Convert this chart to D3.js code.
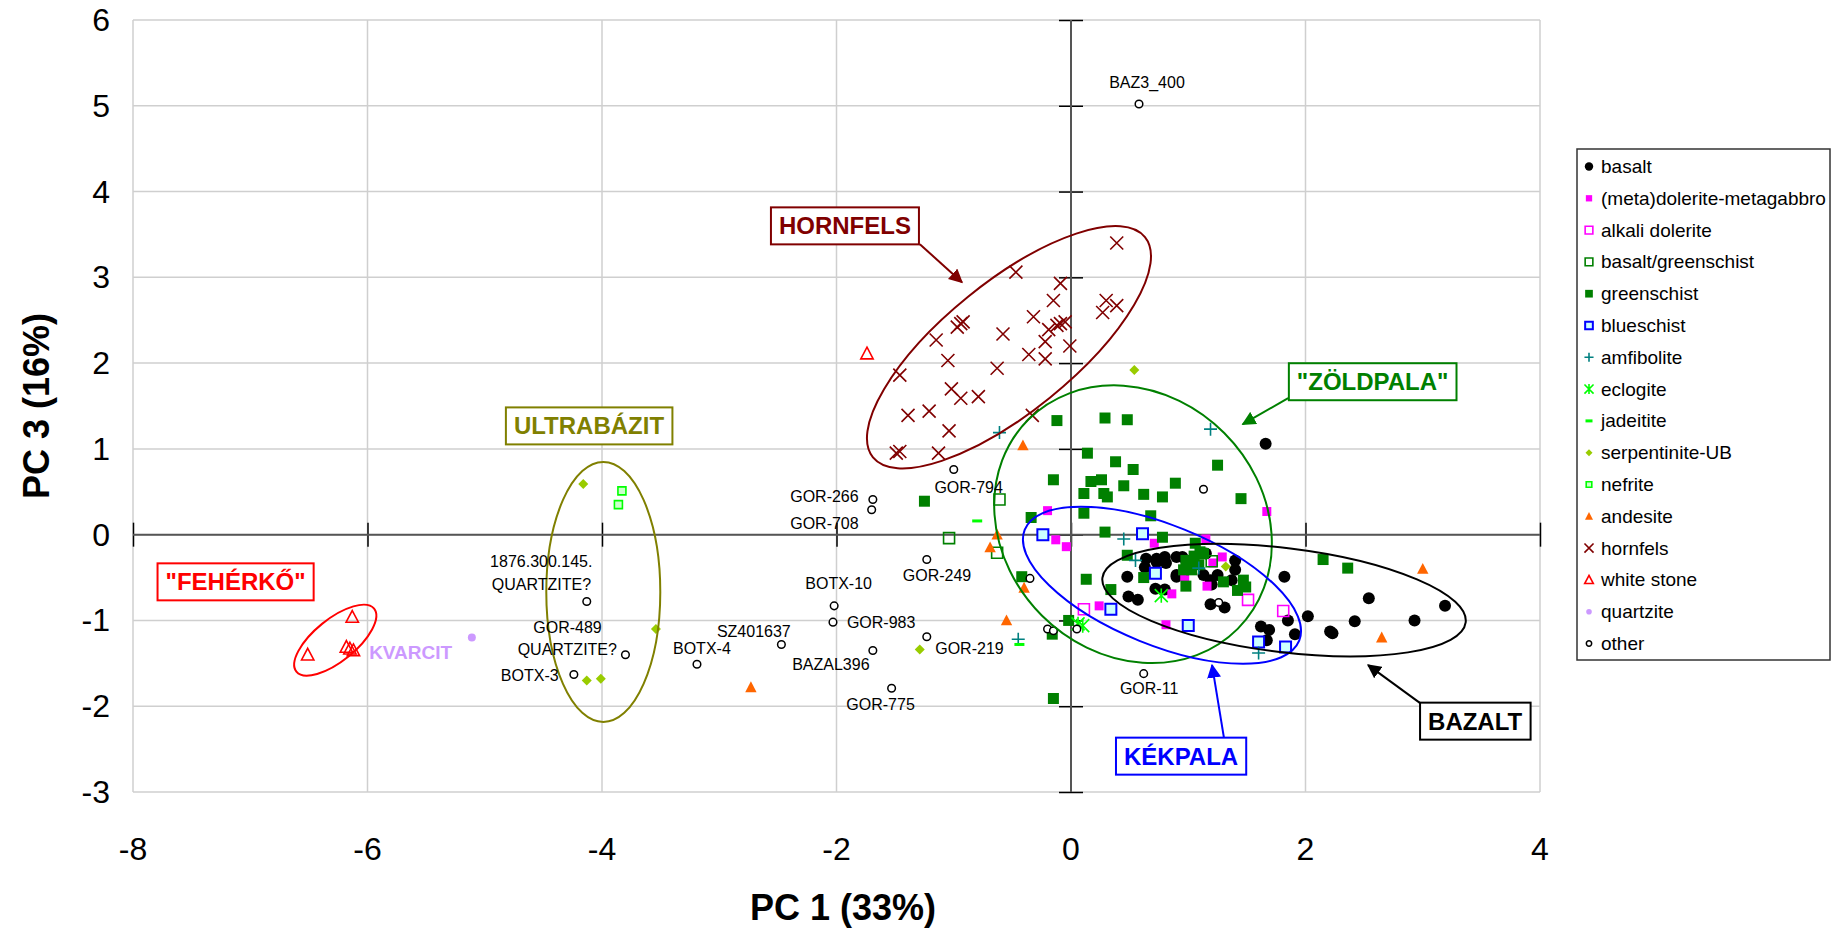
<!DOCTYPE html>
<html>
<head>
<meta charset="utf-8">
<script src="https://cdn.jsdelivr.net/npm/d3@7"></script>
<style>
  body { margin: 0; background: #fff; }
  svg { display: block; }
  text { font-family: "Liberation Sans", Arial, sans-serif; }
</style>
</head>
<body>
<svg id="chart" width="1839" height="933"></svg>
<script>
// ---- data (PC1, PC3) ----
const xTicks = [-8, -6, -4, -2, 0, 2, 4];
const yTicks = [-3, -2, -1, 0, 1, 2, 3, 4, 5, 6];

const basalt = [
  [1.66, 1.06], [0.48, -0.49], [0.64, -0.28], [0.73, -0.32], [0.80, -0.26], [0.81, -0.33],
  [0.63, -0.38], [0.90, -0.49], [0.72, -0.63], [0.80, -0.64], [0.49, -0.72], [0.57, -0.76],
  [0.95, -0.26], [1.15, -0.22], [1.13, -0.47], [1.19, -0.53], [1.20, -0.58], [1.40, -0.30],
  [1.40, -0.41], [1.37, -0.53], [1.19, -0.81], [1.31, -0.85], [1.82, -0.49], [2.02, -0.95],
  [0.73, -0.28], [0.90, -0.26], [0.90, -0.47], [1.25, -0.47], [1.85, -1.00], [1.91, -1.16],
  [1.62, -1.07], [1.69, -1.11], [1.67, -1.23], [2.21, -1.13], [2.23, -1.15], [2.42, -1.01],
  [2.54, -0.74], [2.93, -1.00], [3.19, -0.83]
];
const metadolerite = [
  [-0.20, 0.28], [-0.13, -0.06], [-0.04, -0.14], [0.71, -0.10], [1.15, -0.05], [1.21, -0.33],
  [1.29, -0.26], [1.67, 0.27], [0.97, -0.49], [1.16, -0.60], [0.86, -0.69], [0.24, -0.83],
  [0.81, -1.05]
];
const alkaliDolerite = [[0.11, -0.87], [1.51, -0.76], [1.81, -0.89]];
const basaltGreenschist = [[-0.61, 0.41], [-1.04, -0.04], [-0.63, -0.21], [1.20, -0.31]];
const greenschist = [
  [-0.12, 1.33], [0.29, 1.36], [0.48, 1.34], [0.14, 0.95], [0.38, 0.85], [0.53, 0.76],
  [-0.15, 0.64], [0.17, 0.62], [0.26, 0.64], [0.45, 0.57], [0.11, 0.48], [0.28, 0.48],
  [0.31, 0.44], [0.62, 0.47], [0.78, 0.44], [0.89, 0.60], [1.25, 0.81], [1.45, 0.42],
  [-0.34, 0.20], [0.11, 0.25], [0.68, 0.22], [0.29, 0.03], [0.78, -0.03], [0.48, -0.24],
  [1.06, -0.10], [1.05, -0.25], [1.10, -0.20], [1.13, -0.22], [1.02, -0.33], [1.09, -0.35],
  [0.98, -0.30], [0.96, -0.41], [1.03, -0.41], [-0.42, -0.49], [0.13, -0.52], [0.62, -0.50],
  [0.34, -0.64], [0.98, -0.60], [1.30, -0.55], [1.47, -0.53], [1.49, -0.61], [1.42, -0.65],
  [2.15, -0.29], [2.36, -0.39], [-1.25, 0.39], [-0.02, -1.00], [-0.16, -1.16], [-0.15, -1.91]
];
const blueschist = [
  [-0.24, 0.00], [0.61, 0.01], [0.72, -0.45], [0.34, -0.87], [1.00, -1.06], [1.60, -1.25],
  [1.83, -1.31]
];
const amfibolite = [
  [-0.61, 1.19], [1.19, 1.23], [0.45, -0.05], [0.55, -0.30], [1.09, -0.39], [1.60, -1.38],
  [-0.45, -1.22]
];
const eclogite = [[0.77, -0.71], [0.06, -1.04], [0.10, -1.06]];
const jadeitite = [[-0.80, 0.16], [-0.44, -1.28]];
const serpentinite = [
  [-4.16, 0.59], [-3.54, -1.10], [-4.13, -1.70], [-4.01, -1.68], [-1.29, -1.34], [0.54, 1.92],
  [1.32, -0.37]
];
const nefrite = [[-3.83, 0.51], [-3.86, 0.35]];
const andesite = [
  [-0.41, 1.04], [-0.63, 0.00], [-0.69, -0.15], [-0.40, -0.62], [-0.55, -1.00], [-2.73, -1.78],
  [3.00, -0.40], [2.65, -1.20]
];
const hornfels = [
  [0.39, 3.40], [-0.47, 3.06], [-0.09, 2.93], [-0.15, 2.73], [0.30, 2.73], [0.39, 2.67],
  [0.27, 2.59], [-0.32, 2.54], [-0.94, 2.46], [-0.97, 2.42], [-0.92, 2.48], [-0.09, 2.46],
  [-0.12, 2.44], [-0.05, 2.48], [-0.19, 2.39], [-0.58, 2.34], [-1.15, 2.27], [-0.22, 2.25],
  [-0.01, 2.20], [-0.36, 2.10], [-0.22, 2.05], [-1.05, 2.03], [-1.46, 1.86], [-0.63, 1.94],
  [-1.02, 1.70], [-0.94, 1.59], [-0.79, 1.61], [-1.39, 1.39], [-1.21, 1.44], [-0.33, 1.39],
  [-1.04, 1.21], [-1.49, 0.95], [-1.46, 0.97], [-1.13, 0.95]
];
const whiteStone = [[-1.74, 2.11], [-6.13, -0.96], [-6.51, -1.40], [-6.18, -1.31], [-6.15, -1.33], [-6.12, -1.35]];
const quartzite = [[-5.11, -1.20]];
const other = [
  [0.58, 5.02], [-1.00, 0.76], [-1.69, 0.41], [-1.70, 0.29], [-2.02, -0.83], [-2.03, -1.02],
  [-2.47, -1.28], [-3.19, -1.51], [-1.69, -1.35], [-1.23, -1.19], [-1.53, -1.79], [-1.23, -0.29],
  [-0.20, -1.10], [-0.15, -1.12], [0.05, -1.10], [-0.35, -0.51], [0.62, -1.62], [-4.13, -0.78],
  [-3.80, -1.40], [-4.24, -1.63], [1.13, 0.53], [1.26, -0.79]
];

// sample names written next to some "other" points
const sampleLabels = [
  { text: "BAZ3_400", x: 0.648, y: 5.266, anchor: "middle" },
  { text: "GOR-794", x: -0.873, y: 0.545, anchor: "middle" },
  { text: "GOR-266", x: -1.811, y: 0.441, anchor: "end" },
  { text: "GOR-708", x: -1.811, y: 0.131, anchor: "end" },
  { text: "BOTX-10", x: -1.982, y: -0.569, anchor: "middle" },
  { text: "GOR-983", x: -1.911, y: -1.020, anchor: "start" },
  { text: "SZ401637", x: -2.705, y: -1.125, anchor: "middle" },
  { text: "BOTX-4", x: -3.148, y: -1.323, anchor: "middle" },
  { text: "BAZAL396", x: -2.048, y: -1.509, anchor: "middle" },
  { text: "GOR-219", x: -1.158, y: -1.326, anchor: "start" },
  { text: "GOR-775", x: -1.624, y: -1.976, anchor: "middle" },
  { text: "GOR-249", x: -1.143, y: -0.472, anchor: "middle" },
  { text: "GOR-11", x: 0.666, y: -1.789, anchor: "middle" },
  { text: "1876.300.145.", x: -4.518, y: -0.317, anchor: "middle" },
  { text: "QUARTZITE?", x: -4.516, y: -0.577, anchor: "middle" },
  { text: "GOR-489", x: -4.294, y: -1.082, anchor: "middle" },
  { text: "QUARTZITE?", x: -4.296, y: -1.334, anchor: "middle" },
  { text: "BOTX-3", x: -4.370, y: -1.638, anchor: "end" }
];

// group names in boxes, with arrows to their ellipses
const groupLabels = [
  { text: "HORNFELS", x: -1.928, y: 3.60, color: "#800000", arrow: [-1.289, 3.386, -0.930, 2.943] },
  { text: "ULTRABÁZIT", x: -4.111, y: 1.268, color: "#808000" },
  { text: "\"FEHÉRKŐ\"", x: -7.125, y: -0.550, color: "#ff0000" },
  { text: "\"ZÖLDPALA\"", x: 2.573, y: 1.783, color: "#008000", arrow: [1.852, 1.591, 1.465, 1.288] },
  { text: "KÉKPALA", x: 0.939, y: -2.582, color: "#0000ff", arrow: [1.305, -2.372, 1.203, -1.521] },
  { text: "BAZALT", x: 3.447, y: -2.174, color: "#000000", arrow: [2.978, -1.964, 2.534, -1.521] }
];

// ellipses: centre in data units, half axes in px, tilt in degrees
const groupEllipses = [
  { cx: -0.529, cy: 2.185, rx: 175, ry: 65, angle: -39, color: "#800000" },
  { cx: 0.529, cy: 0.122, rx: 148, ry: 129, angle: 45, color: "#008000" },
  { cx: 0.776, cy: -0.589, rx: 148, ry: 60, angle: 22, color: "#0000ff" },
  { cx: 1.817, cy: -0.763, rx: 183, ry: 52, angle: 7, color: "#000000" },
  { cx: -3.989, cy: -0.667, rx: 57, ry: 130, angle: 0, color: "#808000" },
  { cx: -6.275, cy: -1.230, rx: 50, ry: 21, angle: -39, color: "#ff0000" }
];

const series = [
  { name: "basalt", data: basalt, shape: "circle", r: 6, fill: "#000", stroke: "none", sw: 0 },
  { name: "(meta)dolerite-metagabbro", data: metadolerite, shape: "square", r: 4.5, fill: "#ff00ff", stroke: "none", sw: 0 },
  { name: "alkali dolerite", data: alkaliDolerite, shape: "square", r: 5.5, fill: "none", stroke: "#ff00ff", sw: 1.6 },
  { name: "basalt/greenschist", data: basaltGreenschist, shape: "square", r: 5.5, fill: "none", stroke: "#008000", sw: 1.6 },
  { name: "greenschist", data: greenschist, shape: "square", r: 5.5, fill: "#008000", stroke: "none", sw: 0 },
  { name: "blueschist", data: blueschist, shape: "square", r: 5.5, fill: "#ccffff", stroke: "#0000ff", sw: 2 },
  { name: "amfibolite", data: amfibolite, shape: "plus", r: 6.5, fill: "none", stroke: "#008080", sw: 1.6 },
  { name: "eclogite", data: eclogite, shape: "asterisk", r: 6.5, fill: "none", stroke: "#00ff00", sw: 1.6 },
  { name: "jadeitite", data: jadeitite, shape: "dash", r: 5, fill: "none", stroke: "#00ff00", sw: 3 },
  { name: "serpentinite-UB", data: serpentinite, shape: "diamond", r: 5, fill: "#99cc00", stroke: "none", sw: 0 },
  { name: "nefrite", data: nefrite, shape: "square", r: 4, fill: "#ccffcc", stroke: "#00ff00", sw: 1.6 },
  { name: "andesite", data: andesite, shape: "triangle", r: 6, fill: "#ff6600", stroke: "none", sw: 0 },
  { name: "hornfels", data: hornfels, shape: "times", r: 6.5, fill: "none", stroke: "#800000", sw: 1.6 },
  { name: "white stone", data: whiteStone, shape: "triangle", r: 6.5, fill: "none", stroke: "#ff0000", sw: 1.6 },
  { name: "quartzite", data: quartzite, shape: "circle", r: 4, fill: "#cc99ff", stroke: "none", sw: 0 },
  { name: "other", data: other, shape: "circle", r: 3.8, fill: "#fff", stroke: "#000", sw: 1.5 }
];

// ---- drawing ----
const svg = d3.select("#chart");
const x = d3.scaleLinear().domain([-8, 4]).range([133, 1540]);
const y = d3.scaleLinear().domain([-3, 6]).range([792, 20]);

const shapePath = (shape, r) => {
  switch (shape) {
    case "circle": return `M${-r},0A${r},${r} 0 1,1 ${r},0A${r},${r} 0 1,1 ${-r},0Z`;
    case "square": return `M${-r},${-r}H${r}V${r}H${-r}Z`;
    case "diamond": return `M0,${-r}L${r},0L0,${r}L${-r},0Z`;
    case "triangle": return `M0,${-r}L${r * 0.95},${r * 0.8}L${-r * 0.95},${r * 0.8}Z`;
    case "plus": return `M${-r},0H${r}M0,${-r}V${r}`;
    case "times": return `M${-r},${-r}L${r},${r}M${-r},${r}L${r},${-r}`;
    case "asterisk": return `M${-r},${-r}L${r},${r}M${-r},${r}L${r},${-r}M0,${-r * 1.1}V${r * 1.1}`;
    case "dash": return `M${-r},0H${r}`;
  }
};

// grid
const grid = svg.append("g");
grid.selectAll("line.gx").data(xTicks).join("line")
  .attr("x1", d => x(d)).attr("x2", d => x(d))
  .attr("y1", y(-3)).attr("y2", y(6))
  .attr("stroke", "#cfcfcf").attr("stroke-width", 1.5);
grid.selectAll("line.gy").data(yTicks).join("line")
  .attr("y1", d => y(d)).attr("y2", d => y(d))
  .attr("x1", x(-8)).attr("x2", x(4))
  .attr("stroke", "#cfcfcf").attr("stroke-width", 1.5);

// axes crossing at the origin
const xAxis = d3.axisBottom(x).tickValues(xTicks).tickSize(24).tickFormat("");
const yAxis = d3.axisLeft(y).tickValues(yTicks).tickSize(24).tickFormat("");
const xa = svg.append("g").attr("transform", `translate(0,${y(0) - 12})`).call(xAxis);
const ya = svg.append("g").attr("transform", `translate(${x(0) + 12},0)`).call(yAxis);
[xa, ya].forEach(g => {
  g.select(".domain").remove();
  g.selectAll(".tick line").attr("stroke", "#000").attr("stroke-width", 1.5);
});
svg.append("line").attr("x1", x(-8)).attr("x2", x(4)).attr("y1", y(0)).attr("y2", y(0))
  .attr("stroke", "#555").attr("stroke-width", 2);
svg.append("line").attr("x1", x(0)).attr("x2", x(0)).attr("y1", y(-3)).attr("y2", y(6))
  .attr("stroke", "#555").attr("stroke-width", 2);

// tick labels along the plot edges
svg.append("g").selectAll("text").data(xTicks).join("text")
  .attr("x", d => x(d)).attr("y", 849)
  .attr("text-anchor", "middle").attr("dominant-baseline", "central")
  .attr("font-size", 32).text(d => d);
svg.append("g").selectAll("text").data(yTicks).join("text")
  .attr("x", 110).attr("y", d => y(d))
  .attr("text-anchor", "end").attr("dominant-baseline", "central")
  .attr("font-size", 32).text(d => d);

// axis titles
svg.append("text").attr("x", 843).attr("y", 907)
  .attr("text-anchor", "middle").attr("dominant-baseline", "central")
  .attr("font-size", 36).attr("font-weight", "bold").text("PC 1 (33%)");
svg.append("text").attr("transform", "translate(36,406) rotate(-90)")
  .attr("text-anchor", "middle").attr("dominant-baseline", "central")
  .attr("font-size", 36).attr("font-weight", "bold").text("PC 3 (16%)");

// points
series.forEach(s => {
  svg.append("g").selectAll("path").data(s.data).join("path")
    .attr("transform", d => `translate(${x(d[0])},${y(d[1])})`)
    .attr("d", shapePath(s.shape, s.r))
    .attr("fill", s.fill).attr("stroke", s.stroke).attr("stroke-width", s.sw);
});

// ellipses
svg.append("g").selectAll("ellipse").data(groupEllipses).join("ellipse")
  .attr("transform", d => `translate(${x(d.cx)},${y(d.cy)}) rotate(${d.angle})`)
  .attr("rx", d => d.rx).attr("ry", d => d.ry)
  .attr("fill", "none").attr("stroke", d => d.color).attr("stroke-width", 2);

// sample labels
svg.append("g").selectAll("text").data(sampleLabels).join("text")
  .attr("x", d => x(d.x)).attr("y", d => y(d.y))
  .attr("text-anchor", d => d.anchor).attr("dominant-baseline", "central")
  .attr("font-size", 16).attr("fill", "#000").text(d => d.text);

svg.append("text").attr("x", x(-5.986)).attr("y", y(-1.369))
  .attr("dominant-baseline", "central").attr("font-size", 19).attr("font-weight", "bold")
  .attr("fill", "#cc99ff").text("KVARCIT");

// arrows
const defs = svg.append("defs");
groupLabels.filter(d => d.arrow).forEach((d, i) => {
  defs.append("marker").attr("id", `ah${i}`).attr("viewBox", "0 0 10 10")
    .attr("refX", 9).attr("refY", 5).attr("markerWidth", 14).attr("markerHeight", 14)
    .attr("markerUnits", "userSpaceOnUse").attr("orient", "auto")
    .append("path").attr("d", "M0,0L10,5L0,10Z").attr("fill", d.color);
  svg.append("line")
    .attr("x1", x(d.arrow[0])).attr("y1", y(d.arrow[1]))
    .attr("x2", x(d.arrow[2])).attr("y2", y(d.arrow[3]))
    .attr("stroke", d.color).attr("stroke-width", 2)
    .attr("marker-end", `url(#ah${i})`);
});

// boxed group labels
groupLabels.forEach(d => {
  const g = svg.append("g");
  const t = g.append("text").attr("x", x(d.x)).attr("y", y(d.y))
    .attr("text-anchor", "middle").attr("dominant-baseline", "central")
    .attr("font-size", 24).attr("font-weight", "bold").attr("fill", d.color).text(d.text);
  const b = t.node().getBBox();
  g.insert("rect", "text")
    .attr("x", b.x - 8).attr("y", y(d.y) - 18.5).attr("width", b.width + 16).attr("height", 37)
    .attr("fill", "#fff").attr("stroke", d.color).attr("stroke-width", 2);
});

// legend
const lg = svg.append("g");
lg.append("rect").attr("x", 1577).attr("y", 149).attr("width", 253).attr("height", 511)
  .attr("fill", "#fff").attr("stroke", "#333").attr("stroke-width", 1.5);
series.forEach((s, i) => {
  const yy = 166.5 + i * 31.8;
  lg.append("path").attr("transform", `translate(1589,${yy})`)
    .attr("d", shapePath(s.shape, s.r * 0.7))
    .attr("fill", s.fill).attr("stroke", s.stroke).attr("stroke-width", s.sw);
  lg.append("text").attr("x", 1601).attr("y", yy).attr("dominant-baseline", "central")
    .attr("font-size", 19).text(s.name);
});
</script>
</body>
</html>
